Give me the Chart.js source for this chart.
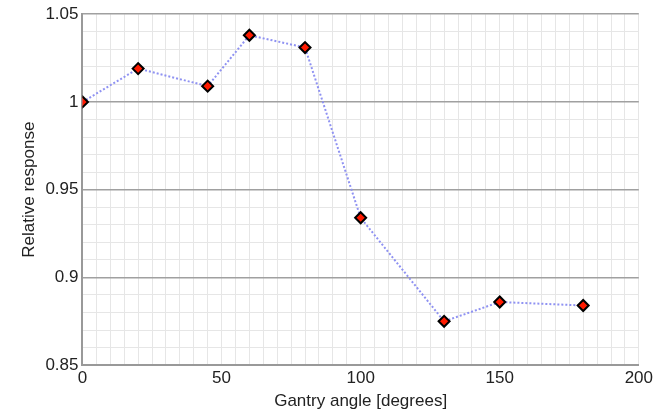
<!DOCTYPE html>
<html>
<head>
<meta charset="utf-8">
<script src="https://cdn.jsdelivr.net/npm/chart.js@4"></script>
<style>
  body { margin: 0; background: #fff; }
  #wrap { width: 656px; height: 418px; }
</style>
</head>
<body>
<div id="wrap"><canvas id="chart"></canvas></div>
<script>
const angles = [0, 20, 45, 60, 80, 100, 130, 150, 180];
const response = [1.0, 1.019, 1.009, 1.038, 1.031, 0.934, 0.875, 0.886, 0.884];
const xTicks = [0, 50, 100, 150, 200];
const yTicks = ['0.85', '0.9', '0.95', '1', '1.05'];

const font = { family: 'Liberation Sans, Arial', size: 17 };

const ctx = document.getElementById('chart').getContext('2d');
new Chart(ctx, {
    type: 'scatter',
    data: {
        datasets: [{
            data: angles.map((a, i) => ({ x: a, y: response[i] })),
            showLine: true,
            borderColor: '#8f92f2',
            borderWidth: 2,
            borderDash: [2, 2],
            pointStyle: 'rectRot',
            pointRadius: 5.5,
            pointBackgroundColor: '#ff1a00',
            pointBorderColor: '#000',
            pointBorderWidth: 2
        }]
    },
    options: {
        responsive: true,
        maintainAspectRatio: false,
        animation: false,
        layout: { padding: { top: 12, right: 14, left: 15, bottom: 2 } },
        plugins: { legend: { display: false }, tooltip: { enabled: false } },
        scales: {
            x: {
                min: 0, max: 200,
                ticks: {
                    stepSize: 5, autoSkip: false, maxRotation: 0, font: font, color: '#222',
                    callback: v => xTicks.includes(v) ? String(v) : ''
                },
                grid: { color: '#e6e6e6', lineWidth: 1, drawTicks: false },
                border: { color: '#999', width: 2 },
                title: { display: true, text: 'Gantry angle [degrees]', font: { family: font.family, size: 17 }, color: '#222', padding: { top: 0 } }
            },
            y: {
                min: 0.85, max: 1.05,
                ticks: {
                    stepSize: 0.01, autoSkip: false, font: font, color: '#222', padding: 4,
                    callback: v => {
                        const k = Math.round(v * 100);
                        return k % 5 === 0 ? yTicks[(k - 85) / 5] : '';
                    }
                },
                grid: {
                    color: c => c.tick && Math.round(c.tick.value * 100) % 5 === 0 ? '#a0a0a0' : '#e6e6e6',
                    lineWidth: c => c.tick && Math.round(c.tick.value * 100) % 5 === 0 ? 1.5 : 1,
                    drawTicks: false
                },
                border: { color: '#999', width: 2 },
                title: { display: true, text: 'Relative response', font: { family: font.family, size: 17 }, color: '#222', padding: { bottom: 2 } }
            }
        }
    }
});
</script>
</body>
</html>
